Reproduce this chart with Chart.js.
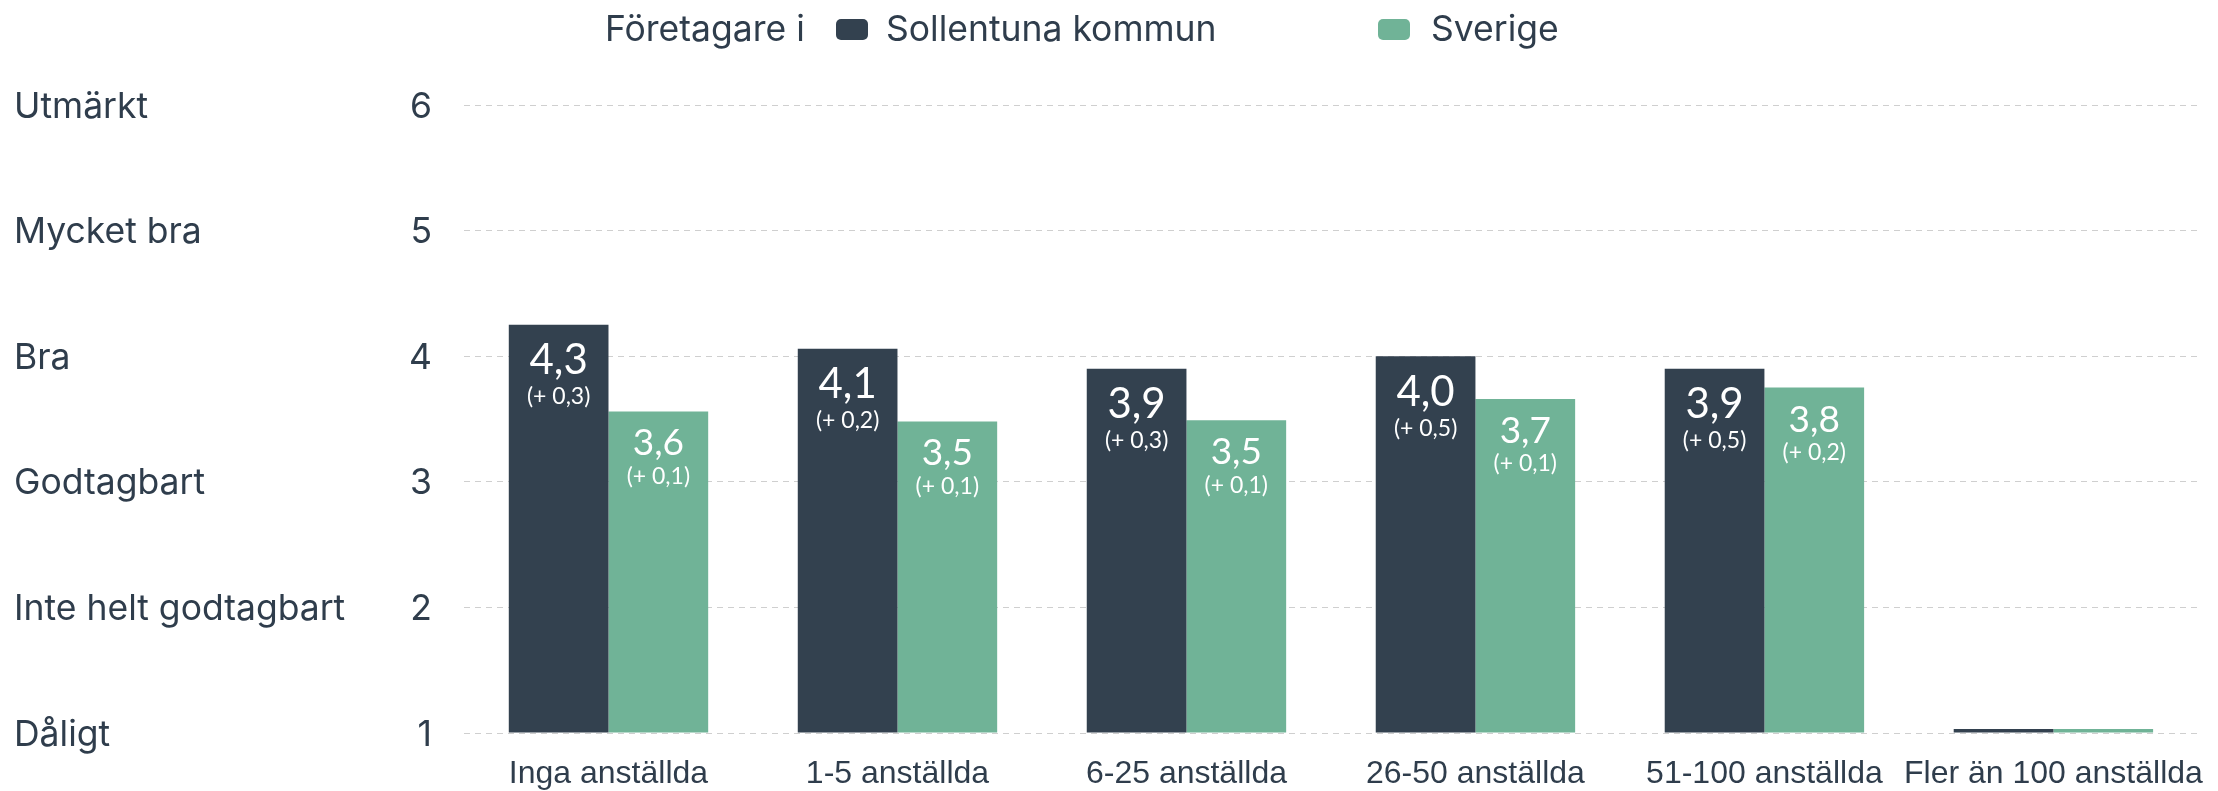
<!DOCTYPE html>
<html lang="sv">
<head>
    <meta charset="UTF-8">
    <title>Företagarnas betyg per storlek</title>
    <script src="https://cdn.jsdelivr.net/npm/chart.js"></script>
    <style>
        body { margin: 0; background: #fff; }
        .wrap { position: relative; width: 2218px; height: 791px; }
        .legend {
            position: absolute; top: 0; left: 0; width: 100%; height: 60px;
            font-family: Inter, "Noto Sans", sans-serif; font-size: 35.5px; color: #2f3d4c;
        }
        .legend span { position: absolute; top: 9px; line-height: 40px; white-space: nowrap; }
        .legend i { position: absolute; top: 19px; width: 32px; height: 21px; border-radius: 5px; }
    </style>
</head>
<body>
    <div class="wrap">
        <canvas id="chart" width="2218" height="791"></canvas>
        <div class="legend" id="legend"></div>
    </div>
    <script>
        // Data
        const categories = ['Inga anställda', '1-5 anställda', '6-25 anställda', '26-50 anställda', '51-100 anställda', 'Fler än 100 anställda'];
        const sollentuna = [4.25, 4.06, 3.9, 4.0, 3.9, 1];
        const sverige = [3.56, 3.48, 3.49, 3.66, 3.75, 1];
        const sollentunaText = ['4,3', '4,1', '3,9', '4,0', '3,9', ''];
        const sollentunaDiff = ['(+ 0,3)', '(+ 0,2)', '(+ 0,3)', '(+ 0,5)', '(+ 0,5)', ''];
        const sverigeText = ['3,6', '3,5', '3,5', '3,7', '3,8', ''];
        const sverigeDiff = ['(+ 0,1)', '(+ 0,1)', '(+ 0,1)', '(+ 0,1)', '(+ 0,2)', ''];
        const gradeLabels = ['Dåligt', 'Inte helt godtagbart', 'Godtagbart', 'Bra', 'Mycket bra', 'Utmärkt'];

        const darkColor = '#33414f';
        const greenColor = '#70b397';
        const textColor = '#2f3d4c';

        // legend i HTML
        const legend = document.getElementById('legend');
        legend.innerHTML =
            '<span style="left:605px">Företagare i</span>' +
            '<i style="left:836px;background:' + darkColor + '"></i>' +
            '<span style="left:886px">Sollentuna kommun</span>' +
            '<i style="left:1378px;background:' + greenColor + '"></i>' +
            '<span style="left:1431px">Sverige</span>';

        // etiketter inne i staplarna
        const labelStyle = [
            { main: sollentunaText, diff: sollentunaDiff, mainFont: '42px Lato', mainOff: 36, diffOff: 72 },
            { main: sverigeText, diff: sverigeDiff, mainFont: '37px Lato', mainOff: 32, diffOff: 65 }
        ];
        const barLabels = {
            id: 'barLabels',
            afterDatasetsDraw(chart) {
                const ctx = chart.ctx;
                ctx.save();
                ctx.fillStyle = '#ffffff';
                ctx.textAlign = 'center';
                ctx.textBaseline = 'middle';
                labelStyle.forEach((s, i) => {
                    chart.getDatasetMeta(i).data.forEach((bar, j) => {
                        if (!s.main[j]) return;
                        ctx.font = s.mainFont;
                        ctx.fillText(s.main[j], bar.x, bar.y + s.mainOff);
                        ctx.font = '23px Lato';
                        ctx.fillText(s.diff[j], bar.x, bar.y + s.diffOff);
                    });
                });
                ctx.restore();
            }
        };

        new Chart(document.getElementById('chart'), {
            type: 'bar',
            data: {
                labels: categories,
                datasets: [
                    { label: 'Sollentuna kommun', data: sollentuna, backgroundColor: darkColor },
                    { label: 'Sverige', data: sverige, backgroundColor: greenColor }
                ]
            },
            options: {
                responsive: false,
                animation: false,
                layout: { padding: { left: 14, right: 14, top: 105, bottom: 0 } },
                datasets: { bar: { categoryPercentage: 0.69, barPercentage: 1, base: 1, minBarLength: 4, clip: false } },
                plugins: { legend: { display: false }, tooltip: { enabled: false } },
                scales: {
                    x: {
                        grid: { display: false },
                        border: { display: false },
                        ticks: {
                            color: textColor,
                            padding: 14,
                            maxRotation: 0,
                            autoSkip: false,
                            font: { family: '"Liberation Sans", Arial, sans-serif', size: 32 }
                        },
                        afterFit(scale) { scale.height = 58; }
                    },
                    y: {
                        position: 'left',
                        weight: 0,
                        min: 1,
                        max: 6,
                        grid: { color: '#cfcfcf', lineWidth: 1, drawTicks: false },
                        border: { display: false, dash: [6, 5] },
                        ticks: {
                            stepSize: 1,
                            padding: 32,
                            labelOffset: 2,
                            color: textColor,
                            font: { family: 'Inter, sans-serif', size: 35.5 }
                        },
                        afterFit(scale) { scale.width = 100; }
                    },
                    grade: {
                        position: 'left',
                        weight: 1,
                        min: 1,
                        max: 6,
                        grid: { display: false },
                        border: { display: false },
                        ticks: {
                            stepSize: 1,
                            crossAlign: 'far',
                            labelOffset: 2,
                            color: textColor,
                            font: { family: 'Inter, sans-serif', size: 35.5 },
                            callback: value => gradeLabels[value - 1]
                        },
                        afterFit(scale) { scale.width = 350; }
                    }
                }
            },
            plugins: [barLabels]
        });
    </script>
</body>
</html>
